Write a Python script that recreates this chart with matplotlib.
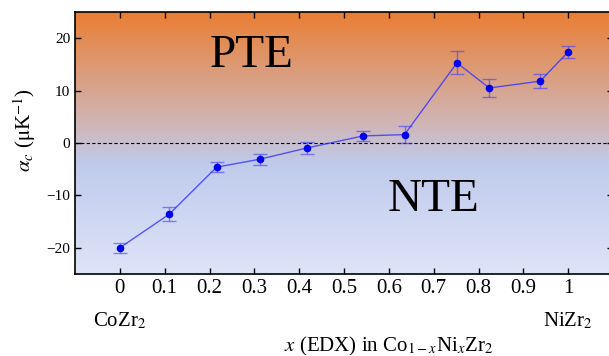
import numpy as np
import matplotlib
matplotlib.use("Agg")
import matplotlib.pyplot as plt
from matplotlib.colors import LinearSegmentedColormap

plt.rcParams['font.family'] = ['Liberation Serif', 'DejaVu Serif']
plt.rcParams['mathtext.fontset'] = 'stix'

x_edx = [0.0, 0.11, 0.216, 0.312, 0.417, 0.543, 0.635, 0.752, 0.824, 0.9375, 1.0]
alpha_c = [-20.0, -13.6, -4.6, -3.1, -0.95, 1.35, 1.6, 15.3, 10.5, 11.8, 17.4]
alpha_err = [1.0, 1.3, 0.9, 1.05, 1.1, 0.9, 1.6, 2.2, 1.7, 1.3, 1.1]
xticks = [0, 0.1, 0.2, 0.3, 0.4, 0.5, 0.6, 0.7, 0.8, 0.9, 1.0]
xticklabels = ['0', '0.1', '0.2', '0.3', '0.4', '0.5', '0.6', '0.7', '0.8', '0.9', '1']
yticks = [-20, -10, 0, 10, 20]
yticklabels = ['\u221220', '\u221210', '0', '10', '20']

W, H = 609, 356
fig = plt.figure(figsize=(W / 100, H / 100), dpi=100)
ax = fig.add_axes([75 / W, 1 - 274 / H, (613 - 75) / W, (274 - 12) / H])

xlim = (-0.1, 1.1)
ylim = (-25, 25)

# background gradient
stops = [(0.0, (222, 228, 248)), (0.3, (200, 210, 240)), (0.42, (192, 202, 234)),
         (0.5, (200, 192, 208)), (0.58, (208, 180, 180)),
         (0.7, (215, 166, 145)), (1.0, (234, 126, 52))]
cmap = LinearSegmentedColormap.from_list('bg', [(p, tuple(c / 255 for c in col)) for p, col in stops])
grad = np.linspace(0, 1, 512).reshape(-1, 1)
ax.imshow(grad, cmap=cmap, aspect='auto', origin='lower',
          extent=[xlim[0], xlim[1], ylim[0], ylim[1]], zorder=0)

ax.axhline(0, color='black', lw=0.8, ls=(0, (3, 2)), zorder=1)

ax.errorbar(x_edx, alpha_c, yerr=alpha_err, fmt='none', ecolor=(0.25, 0.25, 1.0, 0.6),
            elinewidth=1.0, capsize=5, capthick=1.0, zorder=2)
ax.plot(x_edx, alpha_c, color=(0.2, 0.2, 1.0, 0.8), lw=1.0, zorder=3)
ax.plot(x_edx, alpha_c, 'o', color='#0000ee', ms=4.5, zorder=4)

ax.set_xlim(*xlim)
ax.set_ylim(*ylim)
ax.set_xticks(xticks)
ax.set_xticklabels(xticklabels, fontsize=15)
ax.set_yticks(yticks)
ax.set_yticklabels(yticklabels, fontsize=11)
ax.tick_params(direction='in', top=True, right=True, length=4, width=1)
for s in ax.spines.values():
    s.set_linewidth(1.2)

ax.text(0.2, 14.5, 'PTE', fontsize=34, ha='left', va='baseline')
ax.text(0.598, -13.0, 'NTE', fontsize=34, ha='left', va='baseline')

ax.text(0.0, -35.0, r'CoZr$_2$', fontsize=15, ha='center', va='baseline', clip_on=False)
ax.text(1.0, -35.0, r'NiZr$_2$', fontsize=15, ha='center', va='baseline', clip_on=False)

fig.text(389 / W, 1 - 351 / H, r'$x$ (EDX) in Co$_{1-x}$Ni$_x$Zr$_2$', fontsize=15,
         ha='center', va='baseline')
fig.text(25 / W, 1 - 130 / H, r'$\alpha_c$ ($\mathrm{\mu}$K$^{-1}$)', fontsize=15,
         ha='center', va='center', rotation=90)

fig.savefig('out.png', dpi=100)
